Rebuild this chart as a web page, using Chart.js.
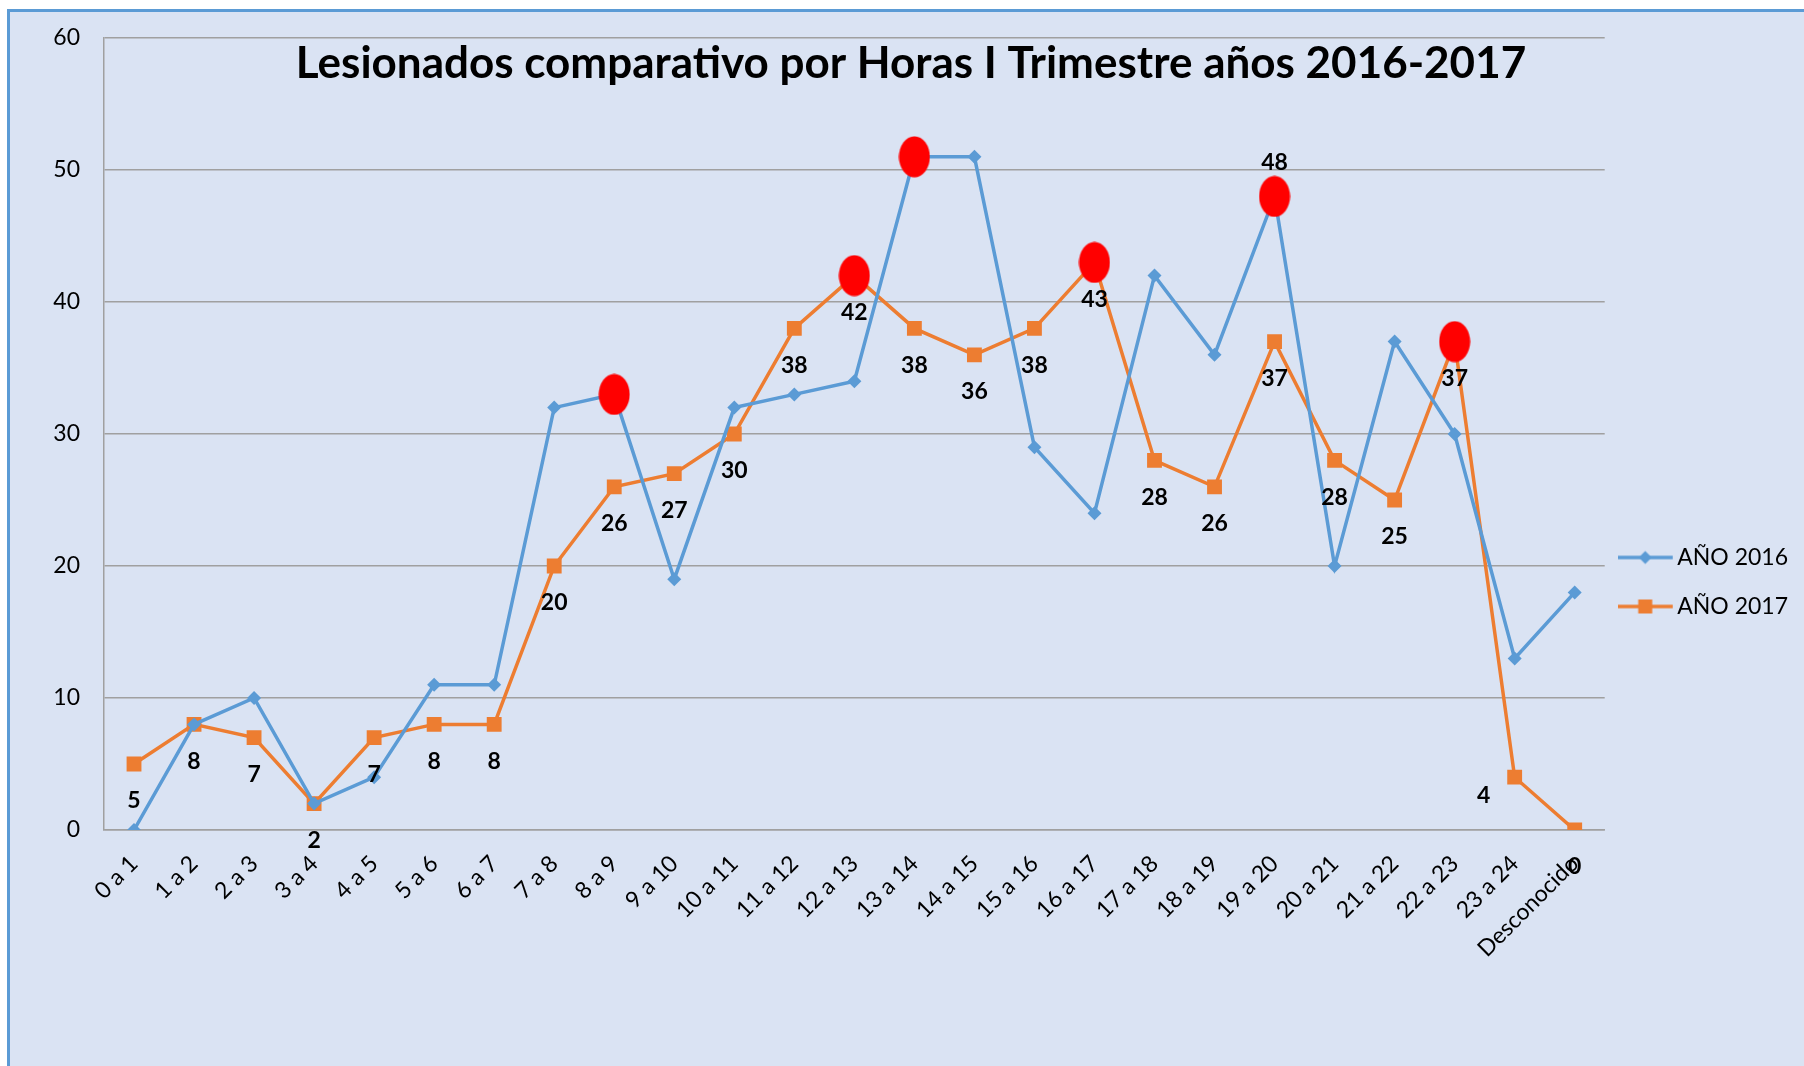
<!DOCTYPE html>
<html>
<head>
<meta charset="utf-8">
<title>Lesionados comparativo por Horas</title>
<script src="https://cdn.jsdelivr.net/npm/chart.js@4"></script>
<style>
  html, body { margin: 0; padding: 0; background: #fff; overflow: hidden; }
  /* the light blue chart area with its blue edge, runs off the picture */
  #frame {
    position: absolute; left: 7px; top: 9px; width: 1900px; height: 1200px;
    background: #dae3f3;
    border-left: 3px solid #5b9bd5; border-top: 3px solid #5b9bd5;
  }
  #wrap { position: absolute; left: 0; top: 0; width: 1804px; height: 1066px; }
</style>
</head>
<body>
<div id="frame"></div>
<div id="wrap"><canvas id="chart"></canvas></div>
<script>
// the data
const chart_title = "Lesionados comparativo por Horas I Trimestre años 2016-2017";
const hours = [
  "0 a 1", "1 a 2", "2 a 3", "3 a 4", "4 a 5", "5 a 6", "6 a 7", "7 a 8",
  "8 a 9", "9 a 10", "10 a 11", "11 a 12", "12 a 13", "13 a 14", "14 a 15",
  "15 a 16", "16 a 17", "17 a 18", "18 a 19", "19 a 20", "20 a 21", "21 a 22",
  "22 a 23", "23 a 24", "Desconocido"
];
const series_names = ["AÑO 2016", "AÑO 2017"];
const year_2016 = [0, 8, 10, 2, 4, 11, 11, 32, 33, 19, 32, 33, 34, 51, 51, 29, 24, 42, 36, 48, 20, 37, 30, 13, 18];
const year_2017 = [5, 8, 7, 2, 7, 8, 8, 20, 26, 27, 30, 38, 42, 38, 36, 38, 43, 28, 26, 37, 28, 25, 37, 4, 0];
// the red blobs somebody stuck on the peaks
const peaks = [null, null, null, null, null, null, null, null, 33, null, null, null, 42, 51,
  null, null, 43, null, null, 48, null, null, 37, null, null];
const y_ticks = [0, 10, 20, 30, 40, 50, 60];

const blue = "#5b9bd5";
const orange = "#ed7d31";
const grid_gray = "#a0a0a0";
const font_family = "Lato, 'Open Sans', sans-serif";

// a little picture of line + marker for the legend, like excel does
function legend_icon(color, square) {
  const c = document.createElement("canvas");
  c.width = 61;
  c.height = 20;
  const ctx = c.getContext("2d");
  ctx.strokeStyle = color;
  ctx.lineWidth = 3.5;
  ctx.beginPath();
  ctx.moveTo(0, 10);
  ctx.lineTo(55, 10);
  ctx.stroke();
  ctx.fillStyle = color;
  if (square) {
    ctx.fillRect(20.5, 3, 14, 14);
  } else {
    ctx.beginPath();
    ctx.moveTo(27.5, 3.5);
    ctx.lineTo(34, 10);
    ctx.lineTo(27.5, 16.5);
    ctx.lineTo(21, 10);
    ctx.closePath();
    ctx.fill();
  }
  return c;
}

// the red ellipse used as point style for the peaks
function red_blob() {
  const c = document.createElement("canvas");
  c.width = 32;
  c.height = 42;
  const ctx = c.getContext("2d");
  ctx.fillStyle = "#ff0000";
  ctx.beginPath();
  ctx.ellipse(16, 21, 15.5, 20.5, 0, 0, Math.PI * 2);
  ctx.fill();
  return c;
}

const legend_icons = [legend_icon(blue, false), legend_icon(orange, true)];

// title sits inside the plot, so draw it by hand
const title_plugin = {
  id: "inner_title",
  afterDraw(chart) {
    const ctx = chart.ctx;
    ctx.save();
    ctx.font = "bold 44px " + font_family;
    ctx.fillStyle = "#000";
    ctx.textAlign = "center";
    ctx.textBaseline = "alphabetic";
    ctx.fillText(chart_title, 911, 78);
    ctx.restore();
  }
};

// bold value labels next to the points
const label_plugin = {
  id: "value_labels",
  afterDatasetsDraw(chart) {
    const ctx = chart.ctx;
    ctx.save();
    ctx.font = "bold 23px " + font_family;
    ctx.fillStyle = "#000";
    ctx.textAlign = "center";
    ctx.textBaseline = "middle";
    chart.data.datasets.forEach(function(ds, i) {
      const opts = ds.value_labels;
      if (!opts) return;
      const meta = chart.getDatasetMeta(i);
      meta.data.forEach(function(pt, j) {
        if (opts.only && !opts.only.includes(j)) return;
        const v = ds.data[j];
        if (v === null || v === undefined) return;
        const nudge = (opts.nudge && opts.nudge[j]) || [0, 0];
        ctx.fillText(String(v), pt.x + nudge[0], pt.y + opts.dy + nudge[1]);
      });
    });
    ctx.restore();
  }
};

function init_chart() {
  const config = {
    type: "line",
    data: {
      labels: hours,
      datasets: [
        {
          label: series_names[0],
          data: year_2016,
          borderColor: blue,
          backgroundColor: blue,
          borderWidth: 3.5,
          tension: 0,
          pointStyle: "rectRot",
          pointRadius: 7,
          pointBorderWidth: 0,
          value_labels: { only: [19], dy: -34 }
        },
        {
          label: series_names[1],
          data: year_2017,
          borderColor: orange,
          backgroundColor: orange,
          borderWidth: 3.5,
          tension: 0,
          pointStyle: "rect",
          pointRadius: 10.5,
          pointBorderWidth: 0,
          value_labels: { dy: 37, nudge: { 23: [-31, -19] } }
        },
        {
          label: "picos",
          data: peaks,
          showLine: false,
          pointStyle: red_blob(),
          pointRadius: 16,
          order: -1
        }
      ]
    },
    options: {
      responsive: true,
      maintainAspectRatio: false,
      animation: false,
      events: [],
      layout: {
        padding: { left: 0, top: 38, right: 6, bottom: 0 }
      },
      plugins: {
        title: { display: false },
        tooltip: { enabled: false },
        legend: {
          position: "right",
          title: {
            display: true,
            text: "",
            font: { size: 10, lineHeight: 1 },
            padding: { top: 25, bottom: 25 }
          },
          labels: {
            usePointStyle: true,
            pointStyleWidth: 35,
            padding: 26,
            color: "#000",
            font: { family: font_family, size: 23 },
            generateLabels(chart) {
              const items = Chart.defaults.plugins.legend.labels.generateLabels(chart);
              return items
                .filter((it) => it.datasetIndex < 2)
                .map(function(it) {
                  it.pointStyle = legend_icons[it.datasetIndex];
                  return it;
                });
            }
          }
        }
      },
      scales: {
        x: {
          offset: true,
          grid: { display: false, drawTicks: false },
          border: { display: true, color: grid_gray, width: 1.5 },
          ticks: {
            autoSkip: false,
            minRotation: 45,
            maxRotation: 45,
            padding: 20,
            color: "#000",
            font: { family: font_family, size: 23 }
          },
          afterFit(scale) { scale.height = 236; }
        },
        y: {
          min: y_ticks[0],
          max: y_ticks[y_ticks.length - 1],
          grid: { color: grid_gray, lineWidth: 1.5, drawTicks: false },
          border: { display: true, color: grid_gray, width: 1.5 },
          ticks: {
            stepSize: y_ticks[1] - y_ticks[0],
            padding: 24,
            color: "#000",
            font: { family: font_family, size: 23 }
          },
          afterFit(scale) { scale.width = 104; }
        }
      }
    },
    plugins: [title_plugin, label_plugin]
  };
  return new Chart(document.getElementById("chart").getContext("2d"), config);
}

init_chart();
</script>
</body>
</html>
